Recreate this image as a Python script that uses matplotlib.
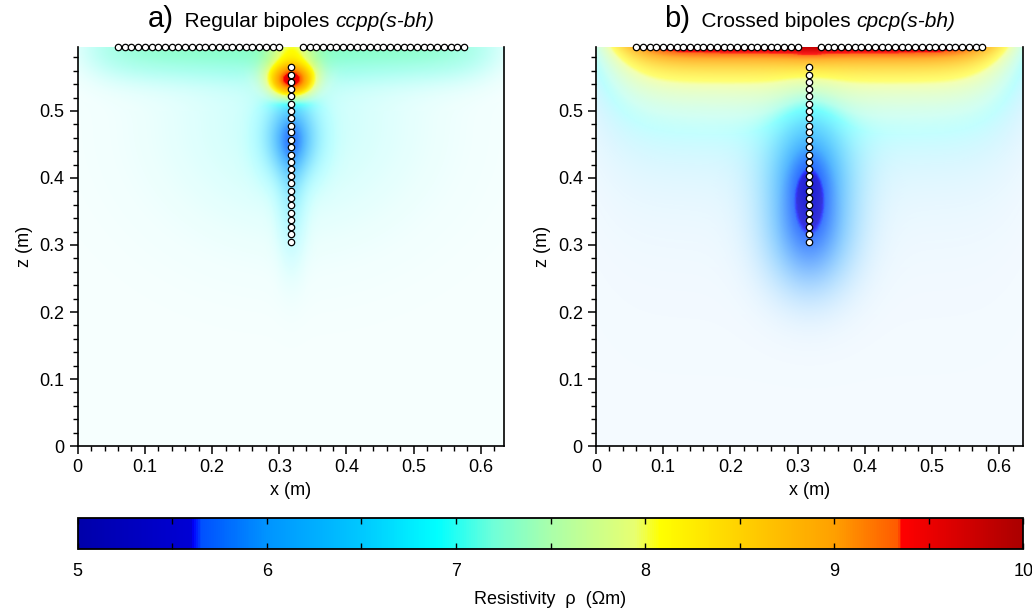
import numpy as np
import matplotlib
matplotlib.use("Agg")
import matplotlib.pyplot as plt
from matplotlib.colors import LinearSegmentedColormap, Normalize
from matplotlib.cm import ScalarMappable
from matplotlib.offsetbox import AnchoredOffsetbox, HPacker, TextArea
from matplotlib.ticker import MultipleLocator, FuncFormatter

plt.rcParams['font.family'] = ['Liberation Sans', 'DejaVu Sans']

# colour scale (resistivity, Ohm m)
rho_min, rho_max = 5.0, 10.0
cmap_rho = [5.0, 5.6, 5.61, 5.65, 6.0, 6.5, 6.9, 7.2, 7.5, 7.95, 8.08, 8.5, 9.0, 9.34, 9.36, 10.0]
cmap_rgb = ["#0000aa", "#0000d5", "#0000ff", "#0050ff", "#0094ff", "#00c8ff", "#00ffff",
            "#70ffd8", "#aaffaa", "#e8ff70", "#ffff00", "#ffd200", "#ffa000", "#ff5a00",
            "#ff0000", "#aa0000"]

# tank geometry (m)
x_max, z_max = 0.635, 0.595

# electrodes
surf_x = [0.060, 0.070, 0.080, 0.090, 0.100, 0.110, 0.120, 0.130, 0.140, 0.150,
          0.160, 0.170, 0.180, 0.190, 0.200, 0.210, 0.220, 0.230, 0.240, 0.250,
          0.260, 0.270, 0.280, 0.290, 0.300,
          0.335, 0.345, 0.355, 0.365, 0.375, 0.385, 0.395, 0.405, 0.415, 0.425,
          0.435, 0.445, 0.455, 0.465, 0.475, 0.485, 0.495, 0.505, 0.515, 0.525,
          0.535, 0.545, 0.555, 0.565, 0.575]
surf_z = 0.595
bh_x = 0.3175
bh_z = [0.565, 0.554, 0.543, 0.533, 0.522, 0.511, 0.500, 0.489, 0.478, 0.468,
        0.457, 0.446, 0.435, 0.424, 0.413, 0.403, 0.392, 0.381, 0.370, 0.359,
        0.348, 0.338, 0.327, 0.316, 0.305]

# inverted models: background (rho, opacity) and
# anomalies (x0, z0, sx, sz, shape_x, shape_z, d_rho, d_opacity)
bg_a = (7.0, 0.04)
anom_a = [
    (0.3175, 0.546, 0.025, 0.020, 2, 2, 2.7, 1.0),     # conductive core (red)
    (0.3175, 0.595, 0.022, 0.015, 2, 2, 0.6, 0.45),    # top of borehole
    (0.3175, 0.595, 0.270, 0.030, 8, 2, 0.3, 0.8),     # surface band
    (0.3175, 0.480, 0.130, 0.110, 2, 2, 0.0, 0.2),     # fan
    (0.3175, 0.460, 0.028, 0.042, 2, 2, -1.15, 0.5),   # blue
    (0.3175, 0.370, 0.015, 0.070, 2, 2, -0.3, 0.2),    # tail
]
bg_b = (6.0, 0.045)
anom_b = [
    (0.3175, 0.595, 0.290, 0.048, 8, 1, 3.5, 0.0),     # surface band, values
    (0.3175, 0.595, 0.280, 0.014, 8, 2, 0.15, 0.0),    # red skin
    (0.3175, 0.595, 0.290, 0.040, 8, 1, 0.0, 0.95),    # surface band, opacity
    (0.3175, 0.595, 0.030, 0.020, 2, 2, 0.2, 0.0),
    (0.3175, 0.400, 0.035, 0.085, 2, 2, -0.9, 0.0),    # blue body, values
    (0.3175, 0.365, 0.046, 0.095, 2, 2.5, 0.0, 0.76),  # blue body, opacity
]

titles = [("a)", "  Regular bipoles ", "ccpp(s-bh)"),
          ("b)", "  Crossed bipoles ", "cpcp(s-bh)")]

cmap = LinearSegmentedColormap.from_list(
    "rho", [((r - rho_min) / (rho_max - rho_min), c) for r, c in zip(cmap_rho, cmap_rgb)], N=512)
norm = Normalize(rho_min, rho_max)

xg = np.linspace(0, x_max, 320)
zg = np.linspace(0, z_max, 300)
X, Z = np.meshgrid(xg, zg)


def model_image(bg, anoms):
    rho = np.full(X.shape, bg[0])
    alpha = np.full(X.shape, bg[1])
    for x0, z0, sx, sz, px, pz, dr, da in anoms:
        g = np.exp(-0.5 * (np.abs((X - x0) / sx) ** px + np.abs((Z - z0) / sz) ** pz))
        rho += dr * g
        alpha += da * g
    rgba = cmap(norm(rho))
    rgba[..., 3] = np.clip(alpha, 0, 1)
    return rgba


fig = plt.figure(figsize=(10.32, 6.13), dpi=100)
axes = [fig.add_axes([0.0753, 0.2724, 0.4134, 0.6504]),
        fig.add_axes([0.5775, 0.2724, 0.4134, 0.6504])]

for ax, (bg, anoms), (lab, txt, ital) in zip(axes, [(bg_a, anom_a), (bg_b, anom_b)], titles):
    ax.imshow(model_image(bg, anoms), extent=[0, x_max, 0, z_max], origin="lower",
              aspect="auto", interpolation="bilinear")
    ax.plot(surf_x, [surf_z] * len(surf_x), "o", ms=4.6, mfc="white", mec="black",
            mew=0.9, clip_on=False, zorder=5)
    ax.plot([bh_x] * len(bh_z), bh_z, "o", ms=4.6, mfc="white", mec="black",
            mew=0.9, clip_on=False, zorder=5)
    ax.set_xlim(0, x_max)
    ax.set_ylim(0, z_max)
    ax.spines["top"].set_visible(False)
    for s in ["left", "bottom", "right"]:
        ax.spines[s].set_linewidth(1.2)
    ax.xaxis.set_major_locator(MultipleLocator(0.1))
    ax.xaxis.set_minor_locator(MultipleLocator(0.02))
    ax.yaxis.set_major_locator(MultipleLocator(0.1))
    ax.yaxis.set_minor_locator(MultipleLocator(0.02))
    fmt = FuncFormatter(lambda v, _: f"{v:g}")
    ax.xaxis.set_major_formatter(fmt)
    ax.yaxis.set_major_formatter(fmt)
    ax.tick_params(which="major", length=6, width=1.1, labelsize=13, direction="out")
    ax.tick_params(which="minor", length=3.5, width=1.0, direction="out")
    ax.set_xlabel("x (m)", fontsize=13, labelpad=4)
    ax.set_ylabel("z (m)", fontsize=13, labelpad=5)

    box = HPacker(children=[TextArea(lab, textprops=dict(size=21)),
                            TextArea(txt, textprops=dict(size=15)),
                            TextArea(ital, textprops=dict(size=15, style="italic"))],
                  align="baseline", pad=0, sep=0)
    ab = AnchoredOffsetbox(loc="lower center", child=box, frameon=False, pad=0,
                           borderpad=0, bbox_to_anchor=(0.5, 1.035),
                           bbox_transform=ax.transAxes)
    ax.add_artist(ab)

cax = fig.add_axes([0.0753, 0.1044, 0.9163, 0.0506])
cb = fig.colorbar(ScalarMappable(norm=norm, cmap=cmap), cax=cax, orientation="horizontal")
cb.outline.set_linewidth(1.3)
cb.set_ticks([5, 6, 7, 8, 9, 10])
cb.ax.xaxis.set_minor_locator(MultipleLocator(0.5))
cb.ax.tick_params(which="both", direction="in", top=True, bottom=True, length=4,
                  width=1.0, labelsize=13, pad=10)
cb.set_label("Resistivity  ρ  (Ωm)", fontsize=13, labelpad=8)

fig.savefig("out.png", dpi=100)
